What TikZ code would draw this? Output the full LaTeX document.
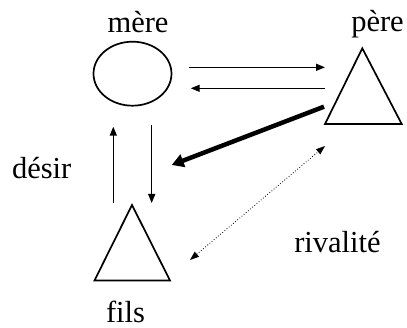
\documentclass[tikz,border=0pt]{standalone}
\usepackage{fontspec}
\setmainfont{Liberation Serif}
\usetikzlibrary{arrows.meta,shapes.geometric}
\begin{document}
\begin{tikzpicture}[x=1pt,y=-1pt,
  shapeline/.style={line width=1.7pt,line join=miter},
  thinarrow/.style={line width=1.4pt,-{Triangle[length=9pt,width=7pt]}},
  thickarrow/.style={line width=4.5pt,-{Triangle[length=12pt,width=13pt]}},
  dotarrow/.style={line width=0.8pt,dotted,{Triangle[length=9pt,width=6.5pt]}-{Triangle[length=9pt,width=6.5pt]}},
  lbl/.style={inner sep=0pt,anchor=base,font=\fontsize{30.5}{36}\selectfont}]
\useasboundingbox (0,0) rectangle (407,328);
% shapes
\node[ellipse,draw,shapeline,minimum width=78pt,minimum height=64pt,inner sep=0pt] (mere) at (132.5,73.7) {};
\coordinate (pA) at (362.3,48.3);
\coordinate (pB) at (325,124);
\coordinate (pC) at (401.7,124);
\draw[shapeline] (pA) -- (pB) -- (pC) -- cycle;
\coordinate (fA) at (132,205);
\coordinate (fB) at (94.5,280.5);
\coordinate (fC) at (170,280.5);
\draw[shapeline] (fA) -- (fB) -- (fC) -- cycle;
% labels
\node[lbl] (tmere) at (138,33) {mère};
\node[lbl] (tpere) at (377.5,32) {père};
\node[lbl] (tdesir) at (41.7,179) {désir};
\node[lbl] (triv) at (337.5,253) {rivalité};
\node[lbl] (tfils) at (125.5,322.5) {fils};
% arrow ends
\coordinate (a1s) at (189.3,67.3);
\coordinate (a1e) at (325,67.3);
\coordinate (a2s) at (325,88.3);
\coordinate (a2e) at (190.7,88.3);
\coordinate (a3s) at (113.3,203);
\coordinate (a3e) at (113.3,126.7);
\coordinate (a4s) at (151.7,125);
\coordinate (a4e) at (151.7,203);
\coordinate (a5s) at (324,106.7);
\coordinate (a5e) at (171.7,165);
\coordinate (a6s) at (190,260);
\coordinate (a6e) at (325,146);
\draw[thinarrow] (a1s) -- (a1e);
\draw[thinarrow] (a2s) -- (a2e);
\draw[thinarrow] (a3s) -- (a3e);
\draw[thinarrow] (a4s) -- (a4e);
\draw[thickarrow] (a5s) -- (a5e);
\draw[dotarrow] (a6s) -- (a6e);
\end{tikzpicture}
\end{document}
